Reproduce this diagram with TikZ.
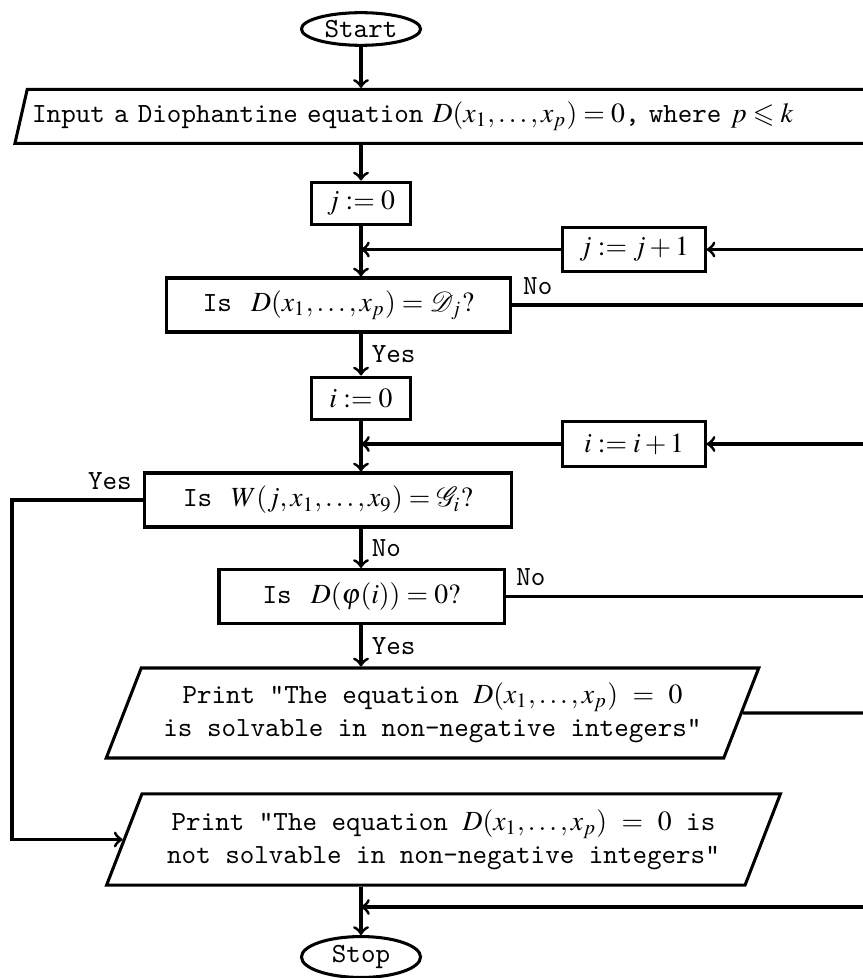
\documentclass[tikz,border=0pt]{standalone}
\usepackage{amsmath}
\usepackage{amssymb}
\usepackage{mathptmx}
\usetikzlibrary{shapes.geometric}
\usetikzlibrary{positioning}

\begin{document}
\begin{tikzpicture}[x=0.361pt, y=-0.361pt, line width=1.1pt,
		every node/.style={font=\ttfamily},
		terminal/.style={draw, ellipse, minimum width=43pt, minimum height=11.6pt, inner sep=1pt},
		process/.style={draw, rectangle, minimum width=35.4pt, minimum height=15.5pt},
		decision/.style={draw, rectangle, minimum height=19.5pt},
		io/.style={
			draw,
			trapezium,
			trapezium left angle=67,
			trapezium right angle=113,
			trapezium stretches=true,
			align=center,
		}]
		\useasboundingbox (0,0) rectangle (863,978);
		\node[terminal] (start) at (361,29) {Start};
		\node[io, trapezium left angle=75.5, trapezium right angle=104.5, minimum height=19.5pt, text width=330pt, align=left, inner xsep=1.8pt, anchor=bottom left corner] (input) at (13,145) {Input a Diophantine equation $D(x_1,\ldots,x_p)=0$, where $p\leqslant k$};
		\node[process] (jzero) at (361,203.5) {$j \mathrel{:=} 0$};
		\node[process, minimum width=51.3pt, minimum height=16.2pt] (jinc) at (634,249.5) {$j \mathrel{:=} j+1$};
		\node[decision, minimum width=124.5pt] (isD) at (338.5,305) {Is~\,$D(x_1,\ldots,x_p) = \mathcal{D}_j?$};
		\node[process] (izero) at (361,398.5) {$i \mathrel{:=} 0$};
		\node[process, minimum width=51.3pt, minimum height=16.2pt] (iinc) at (634,444) {$i \mathrel{:=} i+1$};
		\node[decision, minimum width=132.8pt] (isW) at (328,500) {Is~\,$W(j,x_1,\ldots,x_9) = \mathcal{G}_i?$};
		\node[decision, minimum width=102.9pt] (isZero) at (361.5,596.5) {Is~\,$D(\varphi(i)) = 0?$};
		\node[io, minimum width=235.7pt, minimum height=32.5pt] (yesOut) at (432.5,713) {Print "The equation $D(x_1,\ldots,x_p)$ $=$ $0$\\is solvable in non-negative integers"};
		\node[io, minimum width=243.7pt, minimum height=32.9pt] (noOut) at (443.5,839.5) {Print "The equation $D(x_1,\ldots,x_p)$ $=$ $0$ is\\not solvable in non-negative integers"};
		\node[terminal] (stop) at (361,957) {Stop};
		
		\coordinate (jback) at (870,249.5);
		\coordinate (iback) at (870,444);
		\coordinate (stopback) at (870,907);
		\coordinate (leftline) at (12,500);
		
		\draw[->] (start) -- (input.north -| start);
		\draw[->] (jzero |- input.south) -- (jzero);
		\draw[->] (jzero) -- (jzero |- isD.north);
		\draw[->] (jback) -- (jinc);
		\draw[->] (jinc) -- (jinc -| jzero);
		\draw (isD) -- (isD -| jback) node[pos=0, above right] {No};
		\draw[->] (izero |- isD.south) -- node[right] {Yes} (izero);
		\draw[->] (izero) -- (izero |- isW.north);
		\draw[->] (iback) -- (iinc);
		\draw[->] (iinc) -- (iinc -| izero);
		\draw[->] (isW) -- node[pos=0, above left] {Yes} (leftline) |- (noOut);
		\draw[->] (izero |- isW.south) -- node[right] {No} (izero |- isZero.north);
		\draw (isZero) -- (isZero -| jback) node[pos=0, above right] {No};
		\draw[->] (izero |- isZero.south) -- node[right] {Yes} (izero |- yesOut.north);
		\draw (yesOut) -- (yesOut -| jback);
		\draw[->] (izero |- noOut.south) -- (stop);
		\draw[->] (stopback) -- (stopback -| stop);
	\end{tikzpicture}
\end{document}
